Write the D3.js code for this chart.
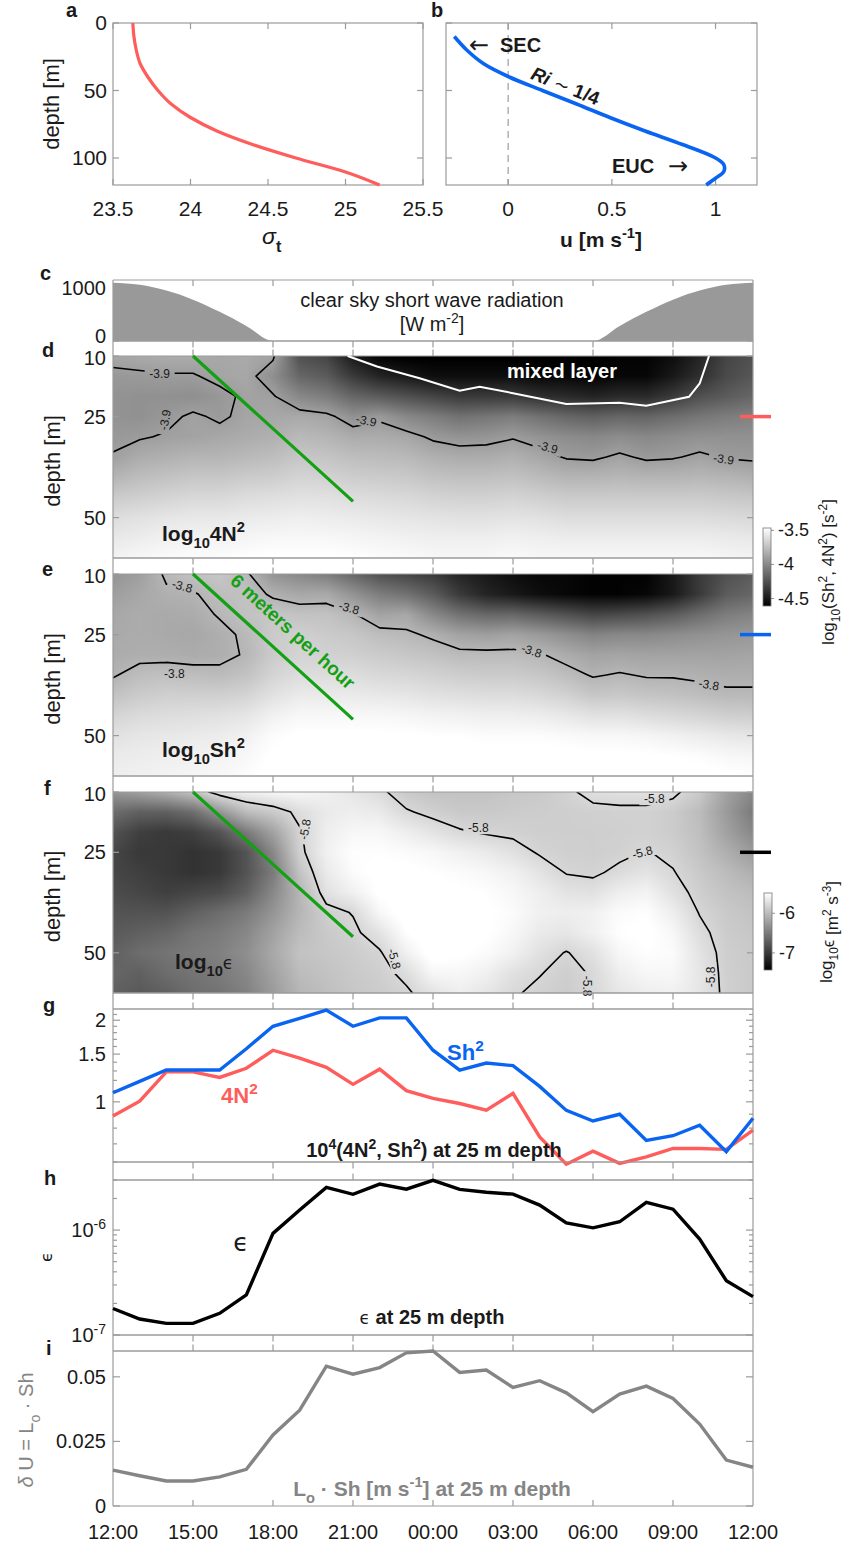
<!DOCTYPE html>
<html>
<head>
<meta charset="utf-8">
<script src="https://cdn.jsdelivr.net/npm/d3@7"></script>
<style>
  body { margin: 0; background: #fff; }
  svg text { font-family: "Liberation Sans", Arial, Helvetica, sans-serif; fill: #1a1a1a; }
</style>
</head>
<body>
<svg id="fig" width="845" height="1544"></svg>
<script>
// ---------------- data ----------------
// a: density profile
const depthA = [0, 10, 20, 30, 40, 50, 60, 70, 80, 90, 100, 110, 120];
const sigmaA = [23.628, 23.635, 23.65, 23.675, 23.725, 23.79, 23.875, 24.0, 24.17, 24.4, 24.68, 24.99, 25.22];
// b: zonal velocity profile
const depthB = [10, 20, 30, 40, 50, 60, 70, 80, 90, 100, 105, 110, 115, 120];
const uB = [-0.26, -0.2, -0.12, 0.005, 0.165, 0.33, 0.49, 0.66, 0.84, 1.0, 1.04, 1.04, 1.0, 0.955];

// time axis (hours after 12:00)
const hours = [0,1,2,3,4,5,6,7,8,9,10,11,12,13,14,15,16,17,18,19,20,21,22,23,24];
const tickHours = [0, 3, 6, 9, 12, 15, 18, 21, 24];
const tickLabels = ["12:00","15:00","18:00","21:00","00:00","03:00","06:00","09:00","12:00"];

// c: clear sky short wave radiation [W m-2]
const radiation = [1100,1060,950,780,550,285,0,0,0,0,0,0,0,0,0,0,0,0,0,285,550,780,950,1060,1100];

// depth grid for the sections [m]
const depthGrid = [10, 15, 20, 25, 30, 35, 40, 45, 50, 55, 60];

// d: log10 4N^2, rows = depthGrid, columns = hours
const logN2 = [
  [-3.86,-3.85,-3.84,-3.84,-3.86,-3.85,-3.88,-4.25,-4.30,-4.50,-4.60,-4.62,-4.62,-4.62,-4.62,-4.62,-4.62,-4.62,-4.62,-4.60,-4.60,-4.55,-4.45,-4.30,-4.25],
  [-3.93,-3.92,-3.91,-3.91,-3.87,-3.86,-3.97,-4.15,-4.20,-4.35,-4.45,-4.50,-4.55,-4.55,-4.55,-4.55,-4.58,-4.58,-4.60,-4.58,-4.58,-4.50,-4.40,-4.28,-4.22],
  [-3.95,-3.96,-3.96,-3.97,-3.93,-3.88,-3.89,-4.00,-4.05,-4.15,-4.20,-4.25,-4.30,-4.35,-4.35,-4.35,-4.40,-4.42,-4.45,-4.42,-4.42,-4.35,-4.25,-4.20,-4.15],
  [-3.95,-3.96,-3.93,-3.88,-3.92,-3.87,-3.86,-3.85,-3.87,-3.96,-3.92,-4.00,-4.05,-4.10,-4.08,-4.05,-4.10,-4.15,-4.18,-4.15,-4.16,-4.12,-4.08,-4.05,-4.03],
  [-3.93,-3.91,-3.89,-3.88,-3.86,-3.84,-3.82,-3.78,-3.80,-3.84,-3.84,-3.86,-3.92,-3.95,-3.94,-3.91,-3.95,-3.98,-4.00,-3.98,-4.00,-3.98,-3.96,-3.96,-3.96],
  [-3.89,-3.84,-3.82,-3.80,-3.80,-3.78,-3.76,-3.72,-3.73,-3.76,-3.77,-3.78,-3.82,-3.84,-3.84,-3.82,-3.86,-3.91,-3.92,-3.88,-3.92,-3.91,-3.88,-3.91,-3.92],
  [-3.80,-3.76,-3.74,-3.72,-3.72,-3.70,-3.69,-3.66,-3.67,-3.69,-3.70,-3.71,-3.74,-3.75,-3.75,-3.74,-3.77,-3.80,-3.80,-3.79,-3.80,-3.80,-3.79,-3.80,-3.82],
  [-3.70,-3.68,-3.66,-3.64,-3.64,-3.62,-3.61,-3.60,-3.60,-3.62,-3.63,-3.64,-3.66,-3.67,-3.67,-3.66,-3.68,-3.70,-3.70,-3.70,-3.70,-3.70,-3.70,-3.71,-3.72],
  [-3.62,-3.60,-3.58,-3.57,-3.57,-3.56,-3.55,-3.54,-3.55,-3.56,-3.57,-3.58,-3.59,-3.60,-3.60,-3.59,-3.60,-3.62,-3.62,-3.62,-3.62,-3.62,-3.62,-3.63,-3.64],
  [-3.57,-3.55,-3.53,-3.52,-3.52,-3.51,-3.50,-3.50,-3.50,-3.51,-3.52,-3.53,-3.54,-3.54,-3.54,-3.53,-3.54,-3.55,-3.55,-3.55,-3.55,-3.55,-3.55,-3.56,-3.57],
  [-3.52,-3.50,-3.49,-3.48,-3.48,-3.47,-3.46,-3.46,-3.46,-3.47,-3.48,-3.49,-3.50,-3.50,-3.50,-3.49,-3.50,-3.50,-3.50,-3.50,-3.50,-3.50,-3.50,-3.51,-3.52]
];

// e: log10 Sh^2
const logSh2 = [
  [-3.95,-3.90,-3.78,-3.74,-3.72,-3.78,-3.95,-4.00,-4.05,-4.15,-4.25,-4.30,-4.35,-4.45,-4.50,-4.55,-4.58,-4.58,-4.60,-4.60,-4.60,-4.50,-4.35,-4.25,-4.20],
  [-3.90,-3.86,-3.82,-3.81,-3.76,-3.74,-3.82,-3.86,-3.85,-3.95,-4.05,-4.10,-4.20,-4.35,-4.45,-4.50,-4.55,-4.58,-4.60,-4.60,-4.58,-4.50,-4.35,-4.20,-4.15],
  [-3.86,-3.84,-3.85,-3.84,-3.79,-3.74,-3.72,-3.74,-3.74,-3.79,-3.88,-3.86,-4.00,-4.10,-4.15,-4.15,-4.20,-4.25,-4.30,-4.28,-4.25,-4.20,-4.12,-4.05,-4.02],
  [-3.85,-3.84,-3.85,-3.86,-3.83,-3.78,-3.70,-3.68,-3.70,-3.72,-3.76,-3.78,-3.82,-3.88,-3.90,-3.88,-3.92,-3.97,-4.02,-4.00,-4.00,-3.98,-3.96,-3.94,-3.93],
  [-3.84,-3.83,-3.83,-3.84,-3.83,-3.79,-3.70,-3.66,-3.67,-3.68,-3.70,-3.72,-3.74,-3.77,-3.77,-3.77,-3.79,-3.84,-3.88,-3.87,-3.88,-3.88,-3.88,-3.88,-3.87],
  [-3.81,-3.76,-3.75,-3.76,-3.77,-3.74,-3.66,-3.62,-3.62,-3.62,-3.64,-3.65,-3.67,-3.69,-3.70,-3.70,-3.72,-3.76,-3.81,-3.79,-3.81,-3.81,-3.82,-3.83,-3.83],
  [-3.74,-3.70,-3.68,-3.68,-3.68,-3.66,-3.60,-3.56,-3.56,-3.56,-3.57,-3.58,-3.60,-3.61,-3.62,-3.62,-3.64,-3.67,-3.72,-3.71,-3.73,-3.74,-3.76,-3.78,-3.78],
  [-3.66,-3.63,-3.62,-3.61,-3.60,-3.58,-3.53,-3.50,-3.50,-3.50,-3.50,-3.51,-3.52,-3.53,-3.54,-3.54,-3.55,-3.57,-3.60,-3.60,-3.62,-3.64,-3.66,-3.68,-3.69],
  [-3.60,-3.58,-3.57,-3.56,-3.55,-3.53,-3.48,-3.46,-3.46,-3.46,-3.46,-3.46,-3.47,-3.47,-3.48,-3.48,-3.48,-3.49,-3.50,-3.50,-3.51,-3.53,-3.55,-3.57,-3.58],
  [-3.56,-3.55,-3.54,-3.53,-3.52,-3.50,-3.46,-3.45,-3.45,-3.44,-3.44,-3.44,-3.44,-3.44,-3.45,-3.45,-3.45,-3.45,-3.46,-3.46,-3.46,-3.47,-3.48,-3.50,-3.51],
  [-3.54,-3.53,-3.52,-3.51,-3.50,-3.48,-3.45,-3.44,-3.44,-3.43,-3.43,-3.43,-3.43,-3.43,-3.43,-3.43,-3.43,-3.43,-3.44,-3.44,-3.44,-3.44,-3.45,-3.46,-3.47]
];

// f: log10 epsilon
const logEps = [
  [-6.30,-6.20,-6.10,-5.95,-5.70,-5.60,-5.55,-5.55,-5.60,-5.68,-5.76,-5.90,-5.95,-5.95,-5.95,-5.92,-5.90,-5.84,-5.74,-5.72,-5.72,-5.76,-5.90,-6.20,-6.40],
  [-6.60,-6.70,-6.70,-6.60,-6.30,-6.00,-5.90,-5.75,-5.65,-5.62,-5.65,-5.78,-5.85,-5.90,-5.90,-5.88,-5.87,-5.86,-5.85,-5.84,-5.84,-5.88,-6.00,-6.25,-6.50],
  [-6.80,-6.95,-7.00,-6.95,-6.80,-6.50,-6.20,-5.82,-5.62,-5.55,-5.55,-5.62,-5.70,-5.78,-5.82,-5.84,-5.86,-5.86,-5.86,-5.85,-5.84,-5.88,-5.98,-6.20,-6.40],
  [-6.90,-7.00,-7.00,-7.05,-7.00,-6.80,-6.40,-5.85,-5.60,-5.50,-5.50,-5.52,-5.55,-5.60,-5.65,-5.72,-5.82,-5.85,-5.86,-5.84,-5.79,-5.84,-5.95,-6.10,-6.25],
  [-6.90,-6.95,-7.00,-7.05,-7.00,-6.80,-6.50,-5.95,-5.65,-5.52,-5.47,-5.47,-5.50,-5.52,-5.55,-5.60,-5.70,-5.81,-5.83,-5.76,-5.70,-5.79,-5.90,-6.00,-6.10],
  [-6.85,-6.90,-6.95,-6.90,-6.85,-6.70,-6.40,-6.05,-5.72,-5.60,-5.48,-5.45,-5.45,-5.48,-5.50,-5.55,-5.62,-5.70,-5.72,-5.62,-5.58,-5.72,-5.86,-5.95,-6.00],
  [-6.80,-6.80,-6.80,-6.70,-6.60,-6.50,-6.30,-6.05,-5.86,-5.79,-5.55,-5.45,-5.42,-5.45,-5.48,-5.52,-5.60,-5.62,-5.60,-5.52,-5.50,-5.62,-5.81,-5.90,-5.95],
  [-6.75,-6.70,-6.65,-6.55,-6.50,-6.40,-6.20,-6.00,-5.90,-5.84,-5.70,-5.50,-5.42,-5.45,-5.48,-5.55,-5.65,-5.68,-5.60,-5.50,-5.47,-5.55,-5.75,-5.88,-5.92],
  [-6.70,-6.60,-6.55,-6.50,-6.45,-6.35,-6.15,-5.95,-5.92,-5.88,-5.82,-5.60,-5.45,-5.48,-5.52,-5.60,-5.72,-5.81,-5.72,-5.55,-5.50,-5.52,-5.70,-5.86,-5.90],
  [-6.65,-6.70,-6.60,-6.55,-6.50,-6.40,-6.20,-6.00,-5.95,-5.90,-5.86,-5.75,-5.55,-5.55,-5.60,-5.72,-5.79,-5.86,-5.78,-5.62,-5.55,-5.55,-5.68,-5.85,-5.90],
  [-6.70,-6.75,-6.70,-6.60,-6.55,-6.45,-6.25,-6.05,-5.98,-5.92,-5.88,-5.83,-5.70,-5.62,-5.68,-5.78,-5.84,-5.88,-5.79,-5.68,-5.62,-5.60,-5.68,-5.84,-5.90]
];

// mixed layer base (white line in d)
const mixedHours = [8.8, 9.9, 11.5, 13.0, 13.75, 15.0, 17.0, 19.0, 20.0, 21.6, 22.0, 22.35];
const mixedDepth = [10, 12.6, 15.5, 18.6, 17.6, 19.2, 21.9, 21.6, 22.3, 20.1, 16.8, 10];

// descent of 6 m per hour (green line)
const descentHours = [3, 9];
const descentDepth = [10, 46];

// g: 10^4 x (4N^2, Sh^2) at 25 m
const sh2At25 = [1.08,1.19,1.31,1.31,1.31,1.57,1.90,2.03,2.18,1.90,2.04,2.04,1.55,1.31,1.39,1.36,1.14,0.93,0.85,0.90,0.72,0.75,0.82,0.655,0.87];
const n2At25  = [0.886,1.006,1.29,1.29,1.23,1.33,1.55,1.45,1.34,1.16,1.32,1.10,1.03,0.986,0.932,1.074,0.743,0.589,0.658,0.593,0.627,0.673,0.673,0.668,0.786];

// h: epsilon at 25 m [m2 s-3]
const epsAt25 = [1.79e-7,1.42e-7,1.29e-7,1.29e-7,1.61e-7,2.41e-7,9.3e-7,1.55e-6,2.55e-6,2.19e-6,2.74e-6,2.45e-6,2.98e-6,2.44e-6,2.29e-6,2.2e-6,1.73e-6,1.17e-6,1.05e-6,1.2e-6,1.84e-6,1.58e-6,8.2e-7,3.29e-7,2.32e-7];

// i: Lo * Sh at 25 m [m s-1]
const dUAt25 = [0.0139,0.0117,0.0097,0.0097,0.0113,0.0142,0.0275,0.0371,0.0541,0.0510,0.0536,0.0593,0.0600,0.0517,0.0526,0.0459,0.0485,0.0438,0.0365,0.0433,0.0464,0.0416,0.0317,0.0178,0.0150];

// contour levels and label anchors (hour, depth, angle)
const levelN2 = -3.9, levelSh2 = -3.8, levelEps = -5.8;
const labelsN2 = [[1.75,14.3,0],[1.95,25.8,-80],[9.5,26.0,12],[16.3,32.6,16],[22.9,35.5,8]];
const labelsSh2 = [[2.6,13.0,15],[8.85,18.4,15],[15.7,29.0,18],[22.35,37.4,10],[2.3,34.6,0]];
const labelsEps = [[7.2,19.3,-80],[10.55,51.5,75],[13.7,19.0,0],[19.85,25.0,-15],[20.3,11.8,0],[22.4,56,-90],[17.8,58.3,90]];

// colour bar ranges
const rangeStrat = [-4.61, -3.466];
const rangeEps = [-7.43, -5.49];
const cbTicksStrat = [-3.5, -4, -4.5];
const cbTicksEps = [-6, -7];

// ---------------- styling ----------------
const FRAME = "#9b9b9b";
const RED = "#ff5c5c", BLUE = "#0a64f2", GREEN = "#14a014", GREYLINE = "#858585";
const svg = d3.select("#fig");
const defs = svg.append("defs");

function hline(x1, x2, y, col = FRAME, w = 1.2) {
  svg.append("line").attr("x1", x1).attr("x2", x2).attr("y1", y).attr("y2", y)
    .attr("stroke", col).attr("stroke-width", w);
}
function vline(x, y1, y2, col = FRAME, w = 1.2) {
  svg.append("line").attr("x1", x).attr("x2", x).attr("y1", y1).attr("y2", y2)
    .attr("stroke", col).attr("stroke-width", w);
}
// rich text: parts = [[text, mode, extraAttrs]] where mode is "", "sub", "sup"
function rich(g, x, y, parts, opts = {}) {
  const t = g.append("text").attr("x", x).attr("y", y)
    .attr("font-size", opts.size || 20)
    .attr("font-weight", opts.weight || "normal")
    .attr("text-anchor", opts.anchor || "start");
  if (opts.fill) t.style("fill", opts.fill);
  if (opts.transform) t.attr("transform", opts.transform);
  const base = opts.size || 20;
  let shift = 0;
  parts.forEach(([txt, mode, style]) => {
    const target = mode === "sub" ? base * 0.35 : mode === "sup" ? -base * 0.42 : 0;
    const s = t.append("tspan").text(txt).attr("dy", target - shift);
    if (mode) s.attr("font-size", base * 0.7);
    if (style) Object.entries(style).forEach(([k, v]) => s.attr(k, v));
    shift = target;
  });
  return t;
}
function panelLetter(x, y, l) {
  svg.append("text").attr("x", x).attr("y", y).attr("font-size", 20)
    .attr("font-weight", "bold").text(l);
}

// ---------------- panel a ----------------
const aX = d3.scaleLinear().domain([23.5, 25.5]).range([113, 423]);
const abY = d3.scaleLinear().domain([0, 120]).range([23, 185]);
svg.append("rect").attr("x", 113).attr("y", 23).attr("width", 310).attr("height", 162)
  .attr("fill", "none").attr("stroke", FRAME).attr("stroke-width", 1.2);
[23.5, 24, 24.5, 25, 25.5].forEach(v => {
  vline(aX(v), 23, 29); vline(aX(v), 179, 185);
  svg.append("text").attr("x", aX(v)).attr("y", 216).attr("font-size", 21)
    .attr("text-anchor", "middle").text(v);
});
[0, 50, 100].forEach(v => {
  hline(113, 119, abY(v)); hline(417, 423, abY(v));
  svg.append("text").attr("x", 107).attr("y", abY(v) + 7).attr("font-size", 21)
    .attr("text-anchor", "end").text(v);
});
svg.append("path")
  .datum(depthA.map((z, i) => [sigmaA[i], z]))
  .attr("d", d3.line().x(d => aX(d[0])).y(d => abY(d[1])).curve(d3.curveMonotoneY))
  .attr("fill", "none").attr("stroke", RED).attr("stroke-width", 3.2);
svg.append("text").attr("transform", "translate(59,104) rotate(-90)")
  .attr("font-size", 22).attr("text-anchor", "middle").text("depth [m]");
rich(svg, 262, 244, [["σ", "", {"font-style": "italic"}], ["t", "sub", {"font-weight": "bold"}]], {size: 23});
panelLetter(66, 17, "a");

// ---------------- panel b ----------------
const bX = d3.scaleLinear().domain([-0.3, 1.2]).range([446, 757]);
svg.append("rect").attr("x", 446).attr("y", 23).attr("width", 311).attr("height", 162)
  .attr("fill", "none").attr("stroke", FRAME).attr("stroke-width", 1.2);
svg.append("line").attr("x1", bX(0)).attr("x2", bX(0)).attr("y1", 23).attr("y2", 185)
  .attr("stroke", "#b5b5b5").attr("stroke-width", 1.6).attr("stroke-dasharray", "7,5");
[0, 0.5, 1].forEach(v => {
  vline(bX(v), 23, 29); vline(bX(v), 179, 185);
  svg.append("text").attr("x", bX(v)).attr("y", 216).attr("font-size", 21)
    .attr("text-anchor", "middle").text(v);
});
[0, 50, 100].forEach(v => { hline(446, 452, abY(v)); hline(751, 757, abY(v)); });
svg.append("path")
  .datum(depthB.map((z, i) => [uB[i], z]))
  .attr("d", d3.line().x(d => bX(d[0])).y(d => abY(d[1])).curve(d3.curveCatmullRom))
  .attr("fill", "none").attr("stroke", BLUE).attr("stroke-width", 3.6);
rich(svg, 601, 247, [["u [m s"], ["-1", "sup"], ["]"]], {size: 21, weight: "bold", anchor: "middle"});
svg.append("text").attr("x", 469).attr("y", 53).attr("font-size", 24).style("font-family", "DejaVu Sans").text("←");
svg.append("text").attr("x", 500).attr("y", 52).attr("font-size", 20).attr("font-weight", "bold").text("SEC");
svg.append("text").attr("x", 612).attr("y", 173).attr("font-size", 20).attr("font-weight", "bold").text("EUC");
svg.append("text").attr("x", 668).attr("y", 174).attr("font-size", 24).style("font-family", "DejaVu Sans").text("→");
rich(svg, 0, 0, [["Ri", "", {"font-style": "italic"}], [" ∼ ", "", {"font-weight": "normal"}], ["1/4"]],
  {size: 19, weight: "bold", anchor: "middle", transform: "translate(563,92) rotate(22)"});
panelLetter(431, 17, "b");

// ---------------- shared time axis ----------------
const tX = d3.scaleLinear().domain([0, 24]).range([113, 753]);
const innerTicks = tickHours.slice(1, -1);

function box(top, bottom) {
  vline(113, top, bottom); vline(753, top, bottom);
  hline(113, 753, top); hline(113, 753, bottom);
}
function strip(y0, y1) {
  hline(113, 753, y0); hline(113, 753, y1);
  vline(113, y0, y1); vline(753, y0, y1);
  innerTicks.forEach(h => { vline(tX(h), y0, y0 + 6.5); vline(tX(h), y1 - 6.5, y1); });
}

// ---------------- panel c ----------------
const cY = d3.scaleLinear().domain([0, 1150]).range([341, 280]);
svg.append("path").datum(hours)
  .attr("d", d3.area().x(h => tX(h)).y0(cY(0)).y1(h => cY(radiation[h])).curve(d3.curveMonotoneX))
  .attr("fill", "#999999");
box(280, 341);
innerTicks.forEach(h => vline(tX(h), 280, 286));
[[0, 2], [1000, 7]].forEach(([v, off]) => {
  hline(113, 119, cY(v)); hline(747, 753, cY(v));
  svg.append("text").attr("x", 106).attr("y", cY(v) + off).attr("font-size", 20)
    .attr("text-anchor", "end").text(v);
});
svg.append("text").attr("x", 432).attr("y", 307).attr("font-size", 20)
  .attr("text-anchor", "middle").text("clear sky short wave radiation");
rich(svg, 432, 331, [["[W m"], ["-2", "sup"], ["]"]], {size: 20, anchor: "middle"});
panelLetter(40, 280, "c");

// ---------------- sections d, e, f ----------------
function isoSegments(grid, level) {
  const segs = [];
  const ny = grid.length, nx = grid[0].length;
  const interp = (a, b, va, vb) => a + (level - va) / (vb - va) * (b - a);
  for (let j = 0; j < ny - 1; j++) {
    for (let i = 0; i < nx - 1; i++) {
      const v00 = grid[j][i], v10 = grid[j][i + 1], v01 = grid[j + 1][i], v11 = grid[j + 1][i + 1];
      const pts = {};
      if ((v00 - level) * (v10 - level) < 0) pts.top = [interp(i, i + 1, v00, v10), j];
      if ((v10 - level) * (v11 - level) < 0) pts.right = [i + 1, interp(j, j + 1, v10, v11)];
      if ((v01 - level) * (v11 - level) < 0) pts.bottom = [interp(i, i + 1, v01, v11), j + 1];
      if ((v00 - level) * (v01 - level) < 0) pts.left = [i, interp(j, j + 1, v00, v01)];
      const keys = Object.keys(pts);
      if (keys.length === 2) segs.push([pts[keys[0]], pts[keys[1]]]);
      else if (keys.length === 4) {
        const c = (v00 + v10 + v01 + v11) / 4;
        if ((c - level) * (v00 - level) > 0) {
          segs.push([pts.top, pts.right]); segs.push([pts.bottom, pts.left]);
        } else {
          segs.push([pts.top, pts.left]); segs.push([pts.bottom, pts.right]);
        }
      }
    }
  }
  return segs;
}

function section(key, grid, range, level, labels, top, bottom, stripTop) {
  const zY = d3.scaleLinear().domain([10, 60]).range([top, bottom]);
  const gi = d3.scaleLinear().domain([hours[0], hours[hours.length - 1]]).range([0, hours.length - 1]);
  const gj = d3.scaleLinear().domain([depthGrid[0], depthGrid[depthGrid.length - 1]]).range([0, depthGrid.length - 1]);
  const shade = d3.scaleLinear().domain(range).range([0, 255]).clamp(true);
  const w = 640, h = Math.round(bottom - top);
  const cv = document.createElement("canvas");
  cv.width = w; cv.height = h;
  const ctx = cv.getContext("2d");
  const img = ctx.createImageData(w, h);
  const nx = hours.length, ny = depthGrid.length;
  for (let py = 0; py < h; py++) {
    const fj = Math.max(0, Math.min(ny - 1, gj(zY.invert(top + py + 0.5))));
    const j0 = Math.min(ny - 2, Math.floor(fj)), dj = fj - j0;
    for (let px = 0; px < w; px++) {
      const fi = Math.max(0, Math.min(nx - 1, gi(tX.invert(113 + px + 0.5))));
      const i0 = Math.min(nx - 2, Math.floor(fi)), di = fi - i0;
      const v = (1 - dj) * ((1 - di) * grid[j0][i0] + di * grid[j0][i0 + 1]) +
                dj * ((1 - di) * grid[j0 + 1][i0] + di * grid[j0 + 1][i0 + 1]);
      const g = Math.round(shade(v));
      const k = (py * w + px) * 4;
      img.data[k] = g; img.data[k + 1] = g; img.data[k + 2] = g; img.data[k + 3] = 255;
    }
  }
  ctx.putImageData(img, 0, 0);
  svg.append("image").attr("href", cv.toDataURL()).attr("x", 113).attr("y", top)
    .attr("width", 640).attr("height", bottom - top).attr("preserveAspectRatio", "none");

  // gaps in the contour lines behind the labels
  const mask = defs.append("mask").attr("id", "gap-" + key).attr("maskUnits", "userSpaceOnUse")
    .attr("x", 100).attr("y", top - 5).attr("width", 670).attr("height", bottom - top + 10);
  mask.append("rect").attr("x", 100).attr("y", top - 5).attr("width", 670).attr("height", bottom - top + 10).attr("fill", "#fff");
  labels.forEach(([hh, zz, a]) => {
    mask.append("rect").attr("x", -15).attr("y", -6).attr("width", 30).attr("height", 12).attr("fill", "#000")
      .attr("transform", `translate(${tX(hh)},${zY(zz)}) rotate(${a})`);
  });
  const clip = defs.append("clipPath").attr("id", "clip-" + key);
  clip.append("rect").attr("x", 113).attr("y", top).attr("width", 640).attr("height", bottom - top);

  const segs = isoSegments(grid, level);
  const toPx = p => [tX(gi.invert(p[0])), zY(gj.invert(p[1]))];
  const dStr = segs.map(s => { const a = toPx(s[0]), b = toPx(s[1]); return `M${a[0]},${a[1]}L${b[0]},${b[1]}`; }).join("");
  svg.append("g").attr("clip-path", `url(#clip-${key})`)
    .append("path").attr("d", dStr).attr("mask", `url(#gap-${key})`)
    .attr("fill", "none").attr("stroke", "#000").attr("stroke-width", 1.6)
    .attr("stroke-linecap", "round").attr("stroke-linejoin", "round");
  labels.forEach(([hh, zz, a]) => {
    svg.append("text").attr("transform", `translate(${tX(hh)},${zY(zz)}) rotate(${a})`)
      .attr("font-size", 12).attr("text-anchor", "middle").attr("dy", "0.35em").text(level);
  });

  // frame
  strip(stripTop, top);
  vline(113, top, bottom); vline(753, top, bottom); hline(113, 753, bottom);
  [10, 25, 50].forEach(v => {
    hline(113, 119, zY(v));
    if (v !== 25) hline(747, 753, zY(v));
    svg.append("text").attr("x", 106).attr("y", zY(v) + (v === 10 ? 9 : 7)).attr("font-size", 20)
      .attr("text-anchor", "end").text(v);
  });
  svg.append("text").attr("transform", `translate(60,${(top + bottom) / 2 + 4}) rotate(-90)`)
    .attr("font-size", 22).attr("text-anchor", "middle").text("depth [m]");
  return {zY};
}

const secD = section("d", logN2, rangeStrat, levelN2, labelsN2, 356, 558, 341);
const secE = section("e", logSh2, rangeStrat, levelSh2, labelsSh2, 574, 776, 558);
const secF = section("f", logEps, rangeEps, levelEps, labelsEps, 792, 993, 776);

// mixed layer base
svg.append("path").datum(mixedHours.map((h, i) => [h, mixedDepth[i]]))
  .attr("d", d3.line().x(d => tX(d[0])).y(d => secD.zY(d[1])))
  .attr("fill", "none").attr("stroke", "#fff").attr("stroke-width", 2);
svg.append("text").attr("x", 562).attr("y", 378).attr("font-size", 20).attr("font-weight", "bold")
  .attr("text-anchor", "middle").style("fill", "#fff").text("mixed layer");

// 6 m per hour descent
[secD, secE, secF].forEach(s => {
  svg.append("line").attr("x1", tX(descentHours[0])).attr("y1", s.zY(descentDepth[0]))
    .attr("x2", tX(descentHours[1])).attr("y2", s.zY(descentDepth[1]))
    .attr("stroke", GREEN).attr("stroke-width", 3.2);
});
{
  const x1 = tX(descentHours[0]), y1 = secE.zY(descentDepth[0]);
  const x2 = tX(descentHours[1]), y2 = secE.zY(descentDepth[1]);
  const ang = Math.atan2(y2 - y1, x2 - x1) * 180 / Math.PI;
  const mx = (x1 + x2) / 2 + 14 * Math.sin(ang * Math.PI / 180) + 6;
  const my = (y1 + y2) / 2 - 14 * Math.cos(ang * Math.PI / 180);
  svg.append("text").attr("transform", `translate(${mx},${my}) rotate(${ang})`)
    .attr("font-size", 19).attr("font-weight", "bold").attr("text-anchor", "middle")
    .style("fill", GREEN).text("6 meters per hour");
}

// section titles
rich(svg, 162, 541, [["log"], ["10", "sub"], ["4N"], ["2", "sup"]], {size: 21, weight: "bold"});
rich(svg, 162, 757, [["log"], ["10", "sub"], ["Sh"], ["2", "sup"]], {size: 21, weight: "bold"});
rich(svg, 175, 969, [["log"], ["10", "sub"], ["ϵ", "", {"font-weight": "normal", "font-size": 17, "font-family": "DejaVu Sans", "dy": -7}]], {size: 21, weight: "bold"});

// 25 m depth markers
[[secD, RED], [secE, BLUE], [secF, "#000"]].forEach(([s, c]) => {
  svg.append("line").attr("x1", 740).attr("x2", 771).attr("y1", s.zY(25)).attr("y2", s.zY(25))
    .attr("stroke", c).attr("stroke-width", 3.5);
});

panelLetter(42, 357, "d");
panelLetter(42, 576, "e");
panelLetter(44, 795, "f");

// colour bars
function colorbar(id, range, ticks, x, y0, y1) {
  const grad = defs.append("linearGradient").attr("id", id).attr("x1", 0).attr("x2", 0).attr("y1", 1).attr("y2", 0);
  grad.append("stop").attr("offset", 0).attr("stop-color", "#000");
  grad.append("stop").attr("offset", 1).attr("stop-color", "#fff");
  svg.append("rect").attr("x", x).attr("y", y0).attr("width", 8).attr("height", y1 - y0)
    .attr("fill", `url(#${id})`).attr("stroke", "#777").attr("stroke-width", 0.8);
  const s = d3.scaleLinear().domain(range).range([y1, y0]);
  ticks.forEach(v => {
    hline(x + 8, x + 11, s(v), "#777", 0.8);
    svg.append("text").attr("x", x + 15).attr("y", s(v) + 6).attr("font-size", 18).text(v);
  });
}
colorbar("cbS", rangeStrat, cbTicksStrat, 763, 528, 606);
colorbar("cbE", rangeEps, cbTicksEps, 764, 893, 970);
rich(svg, 0, 0, [["log"], ["10", "sub"], ["(Sh"], ["2", "sup"], [", 4N"], ["2", "sup"], [") [s"], ["-2", "sup"], ["]"]],
  {size: 17, anchor: "middle", transform: "translate(834,572) rotate(-90)"});
rich(svg, 0, 0, [["log"], ["10", "sub"], ["ϵ", "", {"dy": -4}], [" [m", "", {"dy": 4}], ["2", "sup"], [" s"], ["-3", "sup"], ["]"]],
  {size: 17, anchor: "middle", transform: "translate(832,932) rotate(-90)"});

// ---------------- panel g ----------------
const gY = d3.scaleLog().domain([0.6, 2.2]).range([1162, 1009]);
strip(993, 1009);
box(1009, 1162);
[1, 1.5, 2].forEach(v => {
  hline(113, 120, gY(v)); hline(746, 753, gY(v));
  svg.append("text").attr("x", 106).attr("y", gY(v) + 7).attr("font-size", 20).attr("text-anchor", "end").text(v);
});
[0.6, 0.7, 0.8, 0.9, 1.1, 1.2, 1.3, 1.4, 1.6, 1.7, 1.8, 1.9, 2.1].forEach(v => {
  hline(113, 117, gY(v)); hline(749, 753, gY(v));
});
const gLine = d3.line().x((d, i) => tX(hours[i])).y(d => gY(d));
svg.append("path").datum(n2At25).attr("d", gLine).attr("fill", "none").attr("stroke", RED).attr("stroke-width", 3.4);
svg.append("path").datum(sh2At25).attr("d", gLine).attr("fill", "none").attr("stroke", BLUE).attr("stroke-width", 3.4);
rich(svg, 447, 1060, [["Sh"], ["2", "sup"]], {size: 22, weight: "bold", fill: BLUE});
rich(svg, 221, 1103, [["4N"], ["2", "sup"]], {size: 22, weight: "bold", fill: RED});
rich(svg, 434, 1157, [["10"], ["4", "sup"], ["(4N", ""], ["2", "sup"], [", Sh"], ["2", "sup"], [") at 25 m depth"]], {size: 20, weight: "bold", anchor: "middle"});
panelLetter(43, 1012, "g");

// ---------------- panel h ----------------
const hY = d3.scaleLog().domain([1e-7, 3e-6]).range([1335, 1180]);
strip(1162, 1180);
box(1180, 1335);
[[1e-6, "-6"], [1e-7, "-7"]].forEach(([v, e]) => {
  hline(113, 120, hY(v)); hline(746, 753, hY(v));
  rich(svg, 106, hY(v) + 7, [["10"], [e, "sup"]], {size: 20, anchor: "end"});
});
[2e-7, 3e-7, 4e-7, 5e-7, 6e-7, 7e-7, 8e-7, 9e-7, 2e-6, 3e-6].forEach(v => {
  hline(113, 117, hY(v)); hline(749, 753, hY(v));
});
svg.append("path").datum(epsAt25)
  .attr("d", d3.line().x((d, i) => tX(hours[i])).y(d => hY(d)))
  .attr("fill", "none").attr("stroke", "#000").attr("stroke-width", 3.4);
svg.append("text").attr("x", 241).attr("y", 1251).attr("font-size", 25).attr("text-anchor", "middle")
  .style("font-family", "DejaVu Sans").text("ϵ");
svg.append("text").attr("transform", "translate(52,1257) rotate(-90)").attr("font-size", 16)
  .attr("text-anchor", "middle").style("font-family", "DejaVu Sans").text("ϵ");
rich(svg, 432, 1324, [["ϵ", "", {"font-weight": "normal", "font-family": "DejaVu Sans", "font-size": 17}], [" at 25 m depth"]],
  {size: 20, weight: "bold", anchor: "middle"});
panelLetter(44, 1185, "h");

// ---------------- panel i ----------------
const iY = d3.scaleLinear().domain([0, 0.06]).range([1506, 1351]);
strip(1335, 1351);
box(1351, 1506);
[0, 0.025, 0.05].forEach(v => {
  hline(113, 120, iY(v)); hline(746, 753, iY(v));
  svg.append("text").attr("x", 106).attr("y", iY(v) + 7).attr("font-size", 20).attr("text-anchor", "end").text(v);
});
innerTicks.forEach(h => vline(tX(h), 1500, 1506));
svg.append("path").datum(dUAt25)
  .attr("d", d3.line().x((d, i) => tX(hours[i])).y(d => iY(d)))
  .attr("fill", "none").attr("stroke", GREYLINE).attr("stroke-width", 3.4);
rich(svg, 432, 1496, [["L"], ["o", "sub"], [" · Sh [m s", ""], ["-1", "sup"], ["] at 25 m depth"]],
  {size: 21, weight: "bold", anchor: "middle", fill: GREYLINE});
rich(svg, 0, 0, [["δ", "", {"font-style": "italic"}], [" U = L"], ["o", "sub"], [" · Sh"]],
  {size: 20, anchor: "middle", fill: GREYLINE, transform: "translate(33,1430) rotate(-90)"});
panelLetter(46, 1355, "i");

tickHours.forEach((h, k) => {
  svg.append("text").attr("x", tX(h)).attr("y", 1539).attr("font-size", 20)
    .attr("text-anchor", "middle").text(tickLabels[k]);
});
</script>
</body>
</html>
